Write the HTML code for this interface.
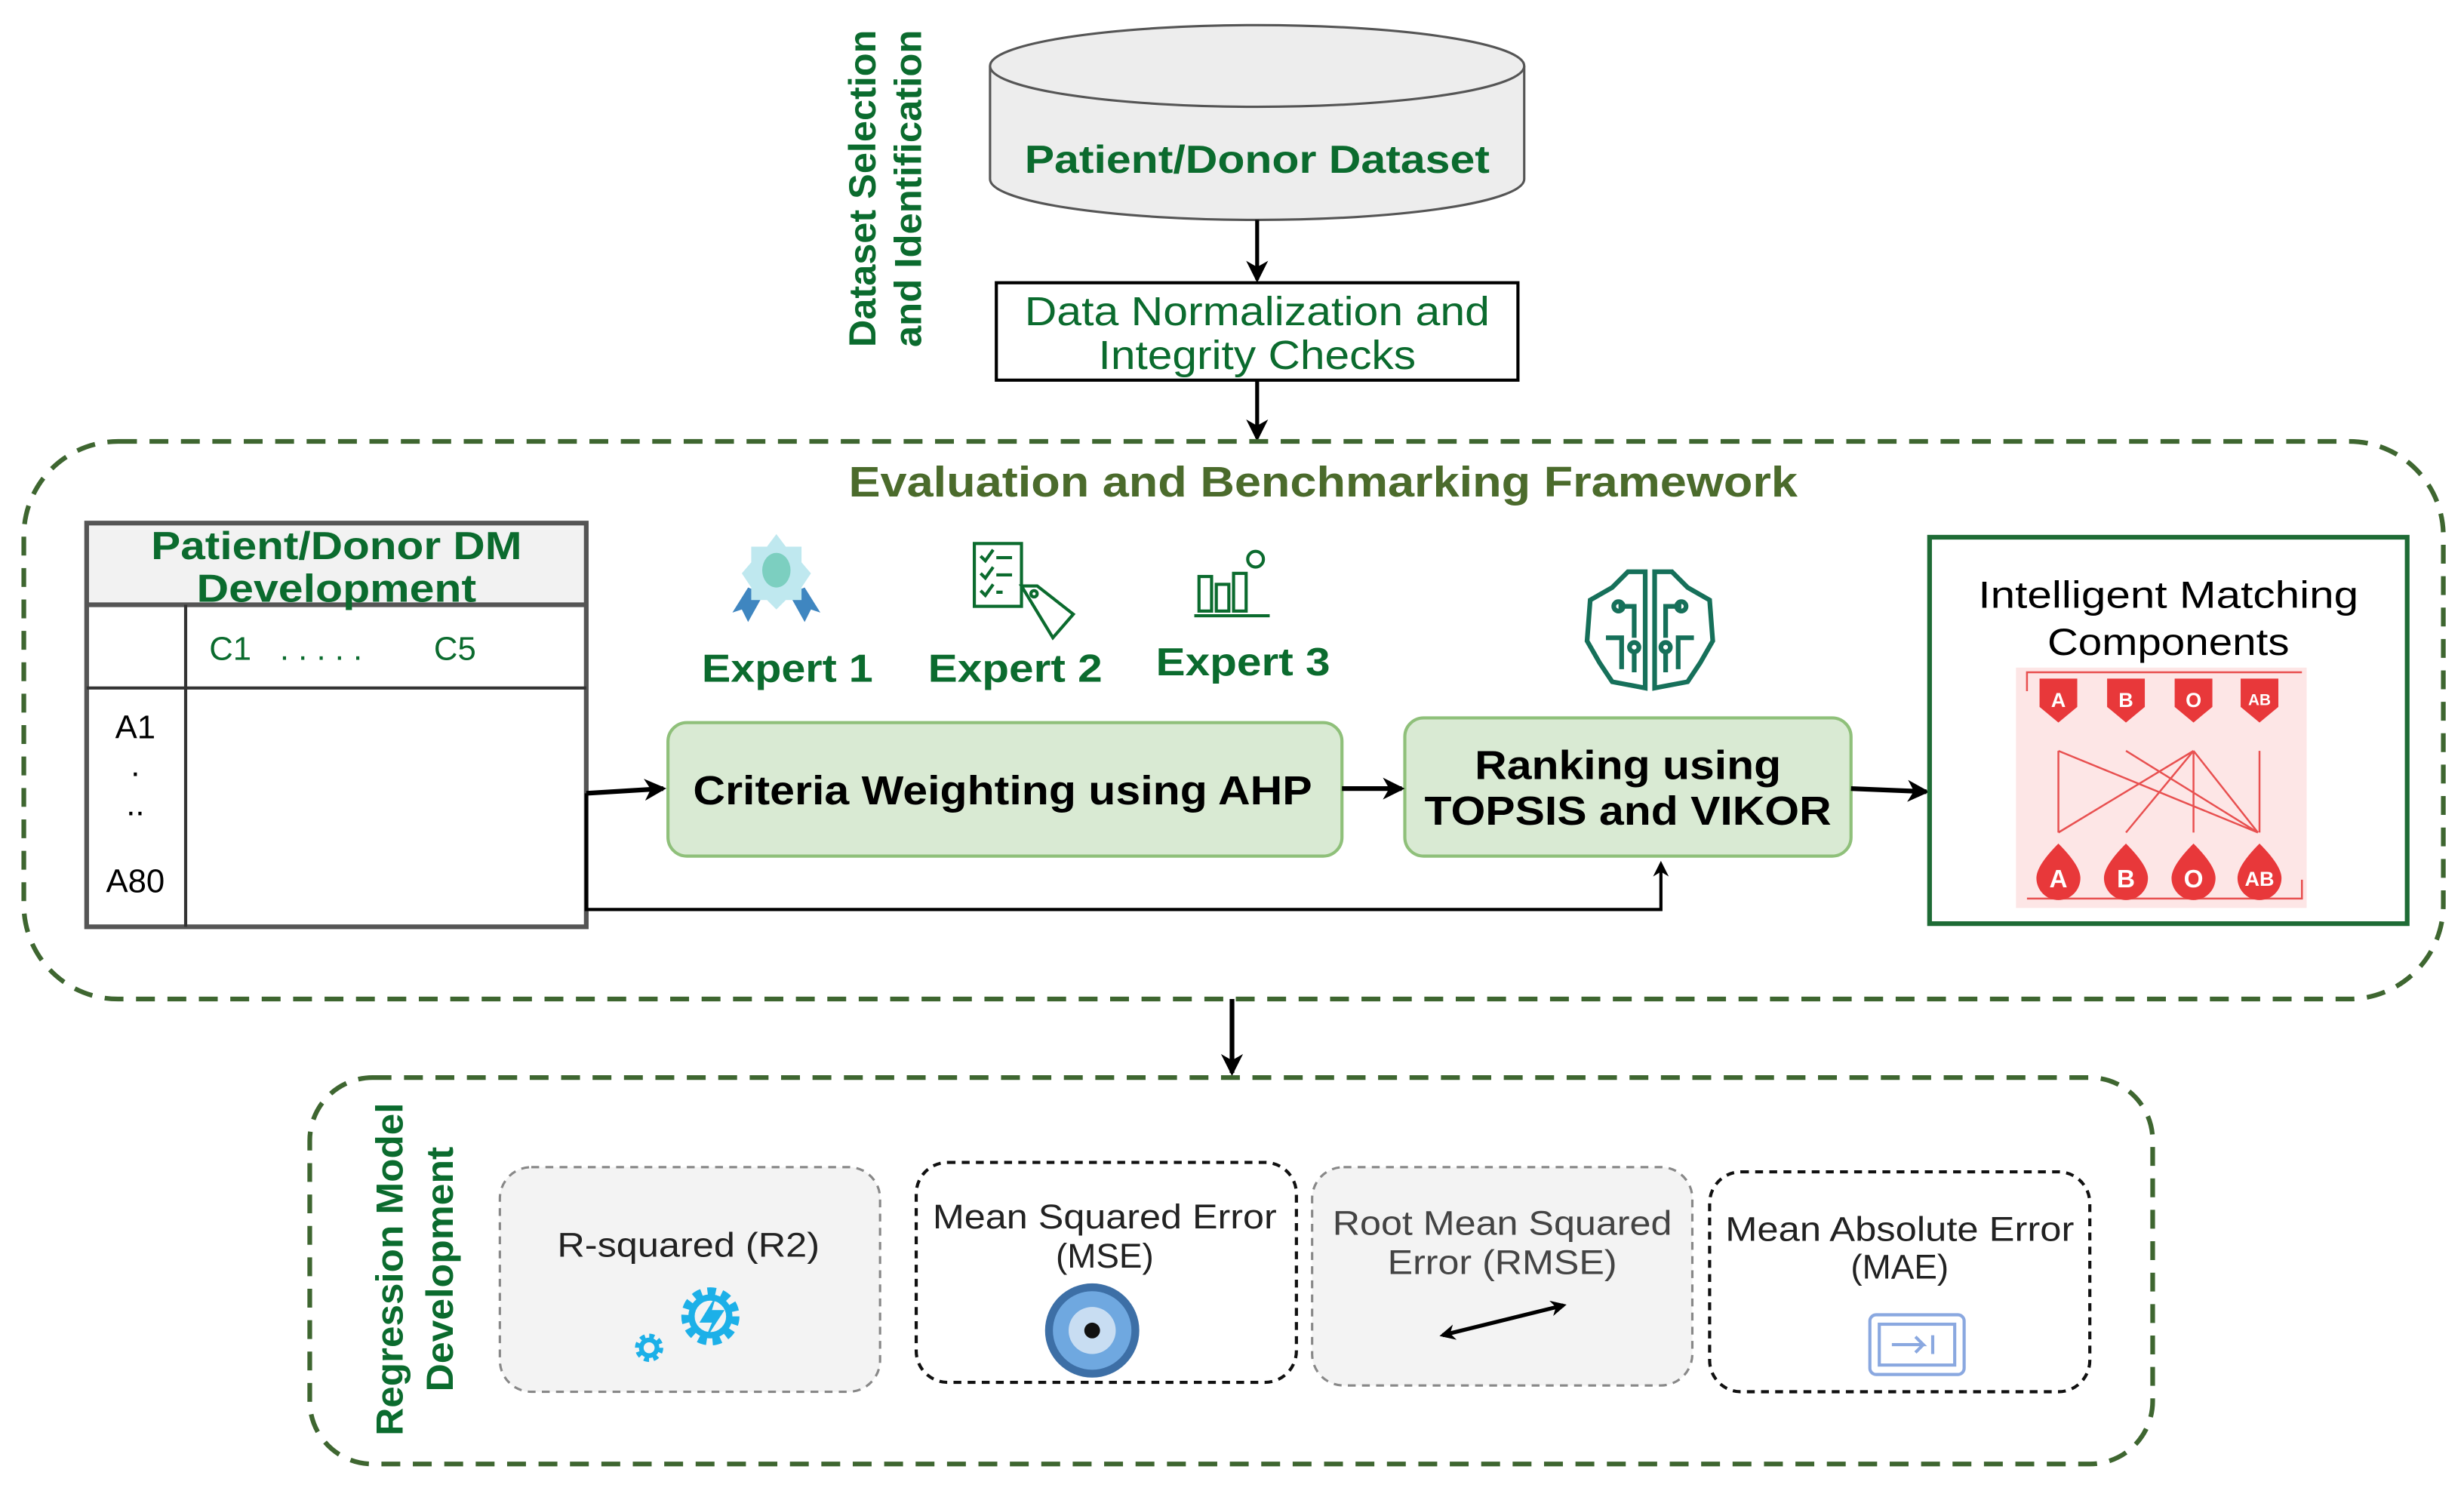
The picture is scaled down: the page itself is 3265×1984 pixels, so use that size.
<!DOCTYPE html>
<html><head><meta charset="utf-8"><style>
html,body{margin:0;padding:0;background:#fff}
svg{display:block}
text{font-family:"Liberation Sans",sans-serif}
</style></head><body>
<svg width="3265" height="1984" viewBox="0 0 1568 953" xmlns="http://www.w3.org/2000/svg">
<defs>
<marker id="ah" markerWidth="10" markerHeight="10" refX="8" refY="5" orient="auto-start-reverse" markerUnits="userSpaceOnUse"><path d="M0,0 L10,5 L0,10 L3,5 z" fill="#000"/></marker>
<marker id="ah2" markerWidth="14" markerHeight="14" refX="12" refY="7" orient="auto" markerUnits="userSpaceOnUse"><path d="M0,0 L14,7 L0,14 L4,7 z" fill="#000"/></marker>
</defs>
<rect width="1568" height="953" fill="#fff"/>

<text transform="translate(557,120) rotate(-90)" text-anchor="middle" font-size="24" font-weight="bold" fill="#0b6b2e" textLength="202" lengthAdjust="spacingAndGlyphs">Dataset Selection</text>
<text transform="translate(586,120) rotate(-90)" text-anchor="middle" font-size="24" font-weight="bold" fill="#0b6b2e" textLength="202" lengthAdjust="spacingAndGlyphs">and Identification</text>

<path d="M630,42 L630,114 A170,26 0 0 0 970,114 L970,42" fill="#ededed" stroke="#555" stroke-width="1.5"/>
<ellipse cx="800" cy="42" rx="170" ry="26" fill="#ededed" stroke="#555" stroke-width="1.5"/>
<text x="800" y="110" text-anchor="middle" font-size="25" font-weight="bold" fill="#0b6b2e" textLength="296" lengthAdjust="spacingAndGlyphs">Patient/Donor Dataset</text>
<line x1="800" y1="140" x2="800" y2="178" stroke="#000" stroke-width="2.5" marker-end="url(#ah2)"/>

<rect x="634" y="180" width="332" height="62" fill="#fff" stroke="#000" stroke-width="2"/>
<text x="800" y="207" text-anchor="middle" font-size="26" fill="#0b6b2e" textLength="296" lengthAdjust="spacingAndGlyphs">Data Normalization and</text>
<text x="800" y="235" text-anchor="middle" font-size="26" fill="#0b6b2e" textLength="202" lengthAdjust="spacingAndGlyphs">Integrity Checks</text>
<line x1="800" y1="242" x2="800" y2="279" stroke="#000" stroke-width="2.5" marker-end="url(#ah2)"/>

<rect x="15" y="281" width="1540" height="355" rx="60" fill="none" stroke="#3e6630" stroke-width="3" stroke-dasharray="12,8"/>
<text x="842" y="316" text-anchor="middle" font-size="27" font-weight="bold" fill="#4b6b2c" textLength="604" lengthAdjust="spacingAndGlyphs">Evaluation and Benchmarking Framework</text>

<rect x="55" y="333" width="318" height="52" fill="#f2f2f2"/>
<rect x="55" y="333" width="318" height="257" fill="none" stroke="#555" stroke-width="3"/>
<line x1="55" y1="385" x2="373" y2="385" stroke="#555" stroke-width="3"/>
<line x1="55" y1="438" x2="373" y2="438" stroke="#333" stroke-width="2"/>
<line x1="118" y1="385" x2="118" y2="590" stroke="#333" stroke-width="2"/>
<text x="214" y="356" text-anchor="middle" font-size="25" font-weight="bold" fill="#0b6b2e" textLength="236" lengthAdjust="spacingAndGlyphs">Patient/Donor DM</text>
<text x="214" y="383" text-anchor="middle" font-size="25" font-weight="bold" fill="#0b6b2e" textLength="178" lengthAdjust="spacingAndGlyphs">Development</text>
<text x="133" y="420" font-size="21" fill="#0b6b2e">C1</text>
<text x="178" y="420" font-size="21" fill="#0b6b2e">.    .  .  .   .</text>
<text x="276" y="420" font-size="21" fill="#0b6b2e">C5</text>
<text x="86" y="470" text-anchor="middle" font-size="21" fill="#000">A1</text>
<text x="86" y="494" text-anchor="middle" font-size="21" fill="#000">.</text>
<text x="86" y="519" text-anchor="middle" font-size="21" fill="#000">..</text>
<text x="86" y="568" text-anchor="middle" font-size="21" fill="#000">A80</text>

<g transform="translate(494,368)">
<path d="M-18,6 L-28,22 L-22,20 L-18,28 L-8,10 Z" fill="#3f86c0"/>
<path d="M18,6 L28,22 L22,20 L18,28 L8,10 Z" fill="#3f86c0"/>
<path d="M0,-28 L6,-20 L16,-20 L16,-10 L22,-3 L16,6 L16,14 L6,14 L0,20 L-6,14 L-16,14 L-16,6 L-22,-3 L-16,-10 L-16,-20 L-6,-20 Z" fill="#bfe8ef"/>
<ellipse cx="0" cy="-5" rx="9" ry="11" fill="#7ccfc0"/>
</g>
<g transform="translate(620,346)" fill="none" stroke="#0b6b2e" stroke-width="2">
<rect x="0" y="0" width="30" height="40"/>
<path d="M4,8 l3,3 l5,-7 M14,9 h10 M4,19 l3,3 l5,-7 M14,20 h10 M4,30 l3,3 l5,-7 M14,31 h4"/>
<path d="M30,27 L40,27 L63,45 L50,60 Z" fill="#fff"/>
<circle cx="38" cy="32" r="2"/>
</g>
<g transform="translate(760,352)" fill="none" stroke="#0b6b2e" stroke-width="2">
<rect x="3" y="15" width="8" height="22"/><rect x="14" y="20" width="8" height="17"/><rect x="25" y="13" width="8" height="24"/>
<circle cx="39" cy="4" r="5"/><line x1="0" y1="40" x2="48" y2="40"/>
</g>
<text x="501" y="434" text-anchor="middle" font-size="25" font-weight="bold" fill="#0b6b2e" textLength="109" lengthAdjust="spacingAndGlyphs">Expert 1</text>
<text x="646" y="434" text-anchor="middle" font-size="25" font-weight="bold" fill="#0b6b2e" textLength="111" lengthAdjust="spacingAndGlyphs">Expert 2</text>
<text x="791" y="430" text-anchor="middle" font-size="25" font-weight="bold" fill="#0b6b2e" textLength="111" lengthAdjust="spacingAndGlyphs">Expert 3</text>

<g transform="translate(1050,400)" fill="none" stroke="#16705a" stroke-width="3">
<path d="M-3,-36 L-14,-36 L-24,-26 L-38,-18 L-40,8 L-32,22 L-24,34 L-3,38 Z"/>
<path d="M3,-36 L14,-36 L24,-26 L38,-18 L40,8 L32,22 L24,34 L3,38 Z"/>
<path d="M-20,-14 h10 v20 M-28,6 h10 v20 M-10,16 v12 M20,-14 h-10 v20 M28,6 h-10 v20 M10,16 v12"/>
<circle cx="-20" cy="-14" r="3"/><circle cx="20" cy="-14" r="3"/><circle cx="-10" cy="12" r="3"/><circle cx="10" cy="12" r="3"/>
</g>

<rect x="425" y="460" width="429" height="85" rx="12" fill="#d9ead3" stroke="#8fc07a" stroke-width="2"/>
<text x="638" y="512" text-anchor="middle" font-size="26" font-weight="bold" fill="#000" textLength="394" lengthAdjust="spacingAndGlyphs">Criteria Weighting using AHP</text>
<rect x="894" y="457" width="284" height="88" rx="12" fill="#d9ead3" stroke="#8fc07a" stroke-width="2"/>
<text x="1036" y="496" text-anchor="middle" font-size="26" font-weight="bold" fill="#000" textLength="195" lengthAdjust="spacingAndGlyphs">Ranking using</text>
<text x="1036" y="525" text-anchor="middle" font-size="26" font-weight="bold" fill="#000" textLength="259" lengthAdjust="spacingAndGlyphs">TOPSIS and VIKOR</text>

<line x1="373" y1="505" x2="422" y2="502" stroke="#000" stroke-width="3" marker-end="url(#ah2)"/>
<line x1="854" y1="502" x2="892" y2="502" stroke="#000" stroke-width="3" marker-end="url(#ah2)"/>
<line x1="1178" y1="502" x2="1226" y2="504" stroke="#000" stroke-width="3" marker-end="url(#ah2)"/>
<polyline points="373,505 373,579 1057,579 1057,550" fill="none" stroke="#000" stroke-width="2" marker-end="url(#ah)"/>

<rect x="1228" y="342" width="304" height="246" fill="#fff" stroke="#1e6b35" stroke-width="3"/>
<text x="1380" y="387" text-anchor="middle" font-size="24" fill="#000" textLength="242" lengthAdjust="spacingAndGlyphs">Intelligent Matching</text>
<text x="1380" y="417" text-anchor="middle" font-size="24" fill="#000" textLength="154" lengthAdjust="spacingAndGlyphs">Components</text>
<rect x="1283" y="425" width="185" height="153" fill="#fde6e6"/>
<g stroke="#e85050" stroke-width="1.2" fill="none">
<path d="M1290,440 V428 H1465 M1290,572 H1465 V560"/>
<path d="M1310,478 V530 M1310,478 L1437,530 M1353,478 L1437,530 M1396,478 L1310,530 M1396,478 L1353,530 M1396,478 V530 M1396,478 L1437,530 M1438,478 V530"/>
</g>
<g fill="#e8383a">
<path d="M1298,432 h24 v18 l-12,10 l-12,-10 z"/><path d="M1341,432 h24 v18 l-12,10 l-12,-10 z"/>
<path d="M1384,432 h24 v18 l-12,10 l-12,-10 z"/><path d="M1426,432 h24 v18 l-12,10 l-12,-10 z"/>
<path d="M1310,537 q14,14 14,22 a14,14 0 0 1 -28,0 q0,-8 14,-22z"/>
<path d="M1353,537 q14,14 14,22 a14,14 0 0 1 -28,0 q0,-8 14,-22z"/>
<path d="M1396,537 q14,14 14,22 a14,14 0 0 1 -28,0 q0,-8 14,-22z"/>
<path d="M1438,537 q14,14 14,22 a14,14 0 0 1 -28,0 q0,-8 14,-22z"/>
</g>
<g fill="#fff" font-size="13" text-anchor="middle" font-weight="bold">
<text x="1310" y="450">A</text><text x="1353" y="450">B</text><text x="1396" y="450">O</text><text x="1438" y="449" font-size="10">AB</text>
<text x="1310" y="565" font-size="16">A</text><text x="1353" y="565" font-size="16">B</text><text x="1396" y="565" font-size="16">O</text><text x="1438" y="564" font-size="13">AB</text>
</g>

<line x1="784" y1="636" x2="784" y2="683" stroke="#000" stroke-width="3" marker-end="url(#ah2)"/>

<rect x="197" y="686" width="1173" height="246" rx="40" fill="none" stroke="#3e6630" stroke-width="3" stroke-dasharray="12,8"/>
<text transform="translate(256,808) rotate(-90)" text-anchor="middle" font-size="24" font-weight="bold" fill="#0b6b2e" textLength="212" lengthAdjust="spacingAndGlyphs">Regression Model</text>
<text transform="translate(288,808) rotate(-90)" text-anchor="middle" font-size="24" font-weight="bold" fill="#0b6b2e" textLength="156" lengthAdjust="spacingAndGlyphs">Development</text>

<rect x="318" y="743" width="242" height="143" rx="20" fill="#f3f3f3" stroke="#888" stroke-width="1.5" stroke-dasharray="5,4"/>
<rect x="583" y="740" width="242" height="140" rx="20" fill="#fff" stroke="#111" stroke-width="2" stroke-dasharray="5,4"/>
<rect x="835" y="743" width="242" height="139" rx="20" fill="#f3f3f3" stroke="#888" stroke-width="1.5" stroke-dasharray="5,4"/>
<rect x="1088" y="746" width="242" height="140" rx="20" fill="#fff" stroke="#111" stroke-width="2" stroke-dasharray="5,4"/>

<g font-size="22" fill="#222" text-anchor="middle">
<text x="438" y="800" textLength="167" lengthAdjust="spacingAndGlyphs">R-squared (R2)</text>
<text x="703" y="782" textLength="219" lengthAdjust="spacingAndGlyphs">Mean Squared Error</text><text x="703" y="807">(MSE)</text>
<text x="956" y="786" fill="#444" textLength="216" lengthAdjust="spacingAndGlyphs">Root Mean Squared</text><text x="956" y="811" fill="#444" textLength="146" lengthAdjust="spacingAndGlyphs">Error (RMSE)</text>
<text x="1209" y="790" textLength="222" lengthAdjust="spacingAndGlyphs">Mean Absolute Error</text><text x="1209" y="814">(MAE)</text>
</g>
<g fill="none" stroke="#1cb0e8">
<circle cx="452" cy="838" r="15" stroke-width="7" stroke-dasharray="5,3.6"/>
<circle cx="452" cy="838" r="12" stroke-width="4"/>
<circle cx="413" cy="858" r="7" stroke-width="4" stroke-dasharray="3,2.5"/>
<circle cx="413" cy="858" r="5" stroke-width="3"/>
</g>
<path d="M456,824 L445,842 L453,842 L448,854 L461,834 L453,834 Z" fill="#1cb0e8"/>
<circle cx="695" cy="847" r="30" fill="#3d6fa6"/><circle cx="695" cy="847" r="25" fill="#6fa8e0"/>
<circle cx="695" cy="847" r="15" fill="#c8ddf2"/><circle cx="695" cy="847" r="5" fill="#111"/>
<line x1="918" y1="850" x2="995" y2="831" stroke="#000" stroke-width="2.5" marker-start="url(#ah)" marker-end="url(#ah)"/>
<g fill="none" stroke="#8aa8e0" stroke-width="2">
<rect x="1190" y="837" width="60" height="38" rx="4"/><rect x="1196" y="843" width="48" height="26"/>
<path d="M1204,856 h20 l-5,-5 M1224,856 l-5,5 M1230,850 v12"/>
</g>
</svg>
</body></html>
